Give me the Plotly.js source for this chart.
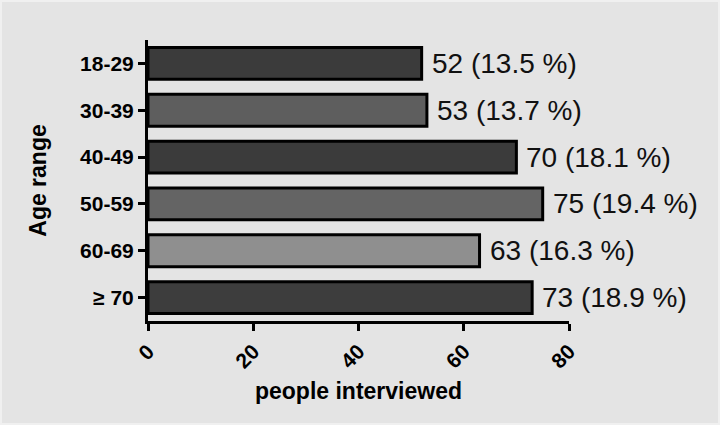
<!DOCTYPE html>
<html>
<head>
<meta charset="utf-8">
<script src="https://cdn.plot.ly/plotly-3.0.1.min.js"></script>
<style>
html,body{margin:0;padding:0;background:#f0f0f0;}
#chart{width:716px;height:421px;margin:2px;}
</style>
</head>
<body>
<div id="chart"></div>
<script>
var categories = ["18-29", "30-39", "40-49", "50-59", "60-69", "\u2265 70"];
var counts = [52, 53, 70, 75, 63, 73];
var labels = ["52 (13.5 %)", "53 (13.7 %)", "70 (18.1 %)", "75 (19.4 %)", "63 (16.3 %)", "73 (18.9 %)"];
var barColors = ["#3b3b3b", "#5e5e5e", "#3b3b3b", "#646464", "#8f8f8f", "#3d3d3d"];
var xTicks = [0, 20, 40, 60, 80];

var trace = {
  type: "bar",
  orientation: "h",
  y: categories,
  x: counts,
  width: 0.68,
  marker: {color: barColors, line: {color: "#000", width: 3}},
  hoverinfo: "none"
};

var annotations = categories.map(function(c, i){
  return {x: counts[i], y: c, xref: "x", yref: "y", text: labels[i], showarrow: false,
    xanchor: "left", yanchor: "middle", xshift: 8,
    font: {family: "Liberation Sans, Arial, sans-serif", size: 28, color: "#111"}};
});

var layout = {
  width: 716, height: 421,
  margin: {l: 146, r: 149, t: 38, b: 102, pad: 0},
  paper_bgcolor: "#e4e4e4",
  plot_bgcolor: "#e4e4e4",
  showlegend: false,
  bargap: 0.3,
  xaxis: {
    range: [0, 80], tickvals: xTicks, ticktext: xTicks.map(String),
    tickangle: -45, ticks: "outside", ticklen: 7, tickwidth: 3, tickcolor: "#000",
    showline: true, linewidth: 3, linecolor: "#000", showgrid: false, zeroline: false,
    tickfont: {family: "Liberation Sans, Arial, sans-serif", size: 21, color: "#000", weight: "bold"},
    title: {text: "<b>people interviewed</b>", standoff: 12,
      font: {family: "Liberation Sans, Arial, sans-serif", size: 23, color: "#000"}}
  },
  yaxis: {
    type: "category", autorange: false, range: [5.5, -0.5],
    categoryorder: "array", categoryarray: categories,
    ticks: "outside", ticklen: 7, tickwidth: 3, tickcolor: "#000",
    showline: true, linewidth: 3, linecolor: "#000", showgrid: false, zeroline: false,
    tickfont: {family: "Liberation Sans, Arial, sans-serif", size: 21, color: "#000", weight: "bold"},
    title: {text: "<b>Age range</b>", standoff: 28,
      font: {family: "Liberation Sans, Arial, sans-serif", size: 23, color: "#000"}}
  },
  annotations: annotations
};

Plotly.newPlot("chart", [trace], layout, {displayModeBar: false, staticPlot: true});
</script>
</body>
</html>
